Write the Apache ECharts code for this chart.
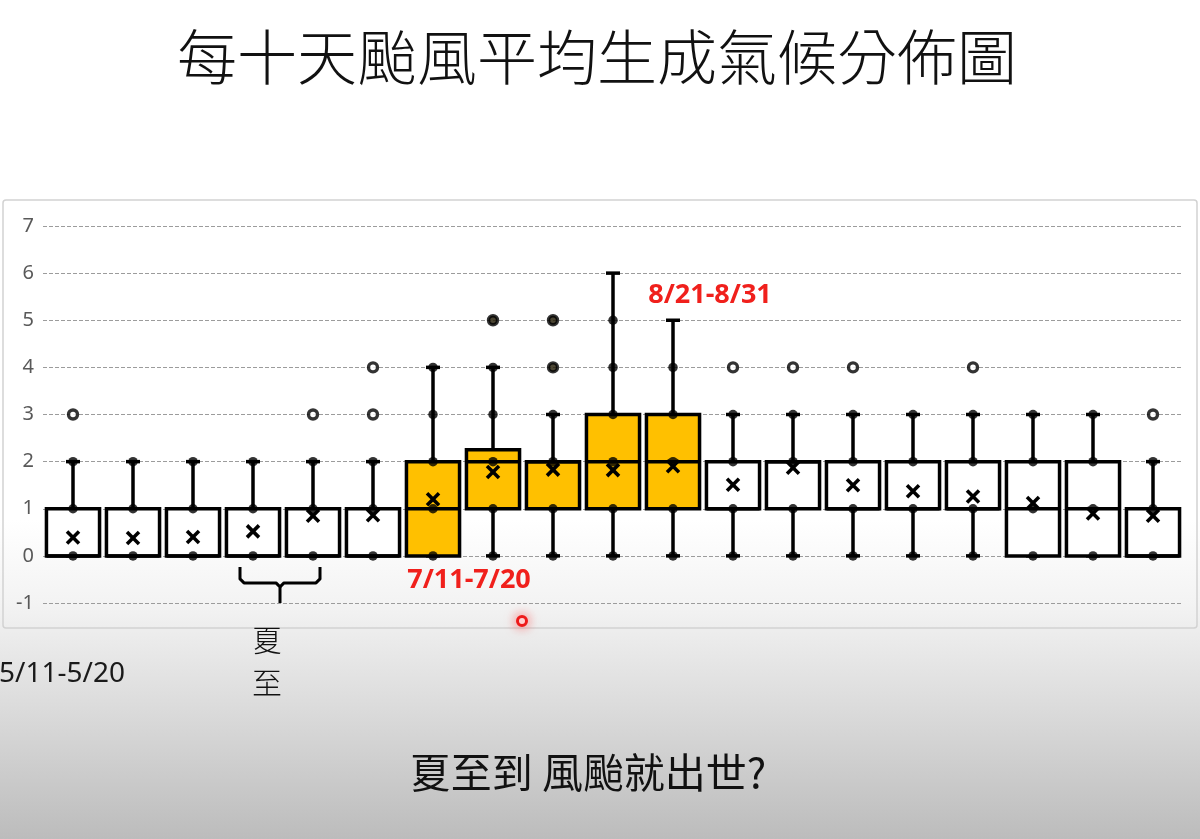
<!DOCTYPE html>
<html>
<head>
<meta charset="utf-8">
<script src="https://cdn.jsdelivr.net/npm/echarts@6/dist/echarts.min.js"></script>
<style>
  html, body { margin: 0; padding: 0; }
  body {
    width: 1200px; height: 839px; overflow: hidden;
    background: linear-gradient(to bottom, #ffffff 0%, #ffffff 62%, #f3f3f3 72%, #dcdcdc 84%, #bcbcbc 100%);
  }
  #chart { width: 1200px; height: 839px; }
</style>
</head>
<body>
<div id="chart"></div>
<script>
// ---- data ----
const categories = ['5/11-5/20','5/21-5/31','6/1-6/10','6/11-6/20','6/21-6/30','7/1-7/10','7/11-7/20',
  '7/21-7/31','8/1-8/10','8/11-8/20','8/21-8/31','9/1-9/10','9/11-9/20','9/21-9/30',
  '10/1-10/10','10/11-10/20','10/21-10/31','11/1-11/10','11/11-11/20'];
const whiskerLow  = [0,0,0,0,0,0,0,0,0,0,0,0,0,0,0,0,0,0,0];
const q1          = [0,0,0,0,0,0,0,1,1,1,1,1,1,1,1,1,0,0,0];
const median      = [0,0,0,0,0,0,1,2,2,2,2,1,2,1,1,1,1,1,0];
const q3          = [1,1,1,1,1,1,2,2.25,2,3,3,2,2,2,2,2,2,2,1];
const whiskerHigh = [2,2,2,2,2,2,4,4,3,6,5,3,3,3,3,3,3,3,2];
const means       = [0.39,0.38,0.4,0.52,0.85,0.86,1.2,1.78,1.83,1.82,1.9,1.51,1.87,1.5,1.37,1.26,1.12,0.9,0.85];
const innerPoints = [[0,1,2],[0,1,2],[0,1,2],[0,1,2],[0,1,2],[0,1,2],[0,1,2,3,4],[0,1,2,3,4],[0,1,2,3],
  [0,1,2,3,4,5],[0,1,2,3,4],[0,1,2,3],[0,1,2,3],[0,1,2,3],[0,1,2,3],[0,1,2,3],[0,1,2,3],[0,1,2,3],[0,1,2]];
const outliers    = [[3],[],[],[],[3],[3,4],[],[5],[4,5],[],[],[4],[4],[4],[],[4],[],[],[3]];
const yTicks = [-1,0,1,2,3,4,5,6,7];

// ---- build series data ----
const boxData = categories.map((c, i) => [i, whiskerLow[i], q1[i], median[i], q3[i], whiskerHigh[i]]);
const pointData = [];
innerPoints.forEach((arr, i) => arr.forEach(v => pointData.push([i, v])));
const outlierData = [];
outliers.forEach((arr, i) => arr.forEach(v => outlierData.push([i, v])));
const meanData = means.map((m, i) => [i, m]);

const chart = echarts.init(document.getElementById('chart'), null, { renderer: 'canvas' });
const ORANGE = '#FFC000';
const LW = 3.5;
const isHot = i => i >= 6 && i <= 10;

chart.setOption({
  backgroundColor: 'transparent',
  animation: false,
  grid: { left: 43, right: 17, top: 226, bottom: 236, containLabel: false, outerBoundsMode: 'none' },
  xAxis: {
    type: 'category',
    data: categories,
    boundaryGap: true,
    axisLine: { show: false, onZero: false },
    axisTick: { show: false },
    splitLine: { show: false },
    axisLabel: {
      interval: 0,
      formatter: (v, i) => (i === 0 ? v : ''),
      margin: 57,
      fontSize: 28,
      fontFamily: '"Noto Sans", "Liberation Sans", sans-serif',
      color: '#1a1a1a',
      padding: [0, 22, 0, 0]
    }
  },
  yAxis: {
    type: 'value',
    min: yTicks[0], max: yTicks[yTicks.length - 1], interval: 1,
    axisLine: { show: false },
    axisTick: { show: false },
    axisLabel: { color: '#595959', fontSize: 20, margin: 9, fontFamily: 'Noto Sans' },
    splitLine: { show: true, lineStyle: { color: '#9c9c9c', width: 1, type: [4, 2] } }
  },
  series: [
    {
      type: 'custom',
      z: 2,
      data: boxData,
      renderItem: function (params, api) {
        const i = api.value(0);
        const lo = api.coord([i, api.value(1)]);
        const b1 = api.coord([i, api.value(2)]);
        const md = api.coord([i, api.value(3)]);
        const b3 = api.coord([i, api.value(4)]);
        const hi = api.coord([i, api.value(5)]);
        const bw = api.size([1, 0])[0] * 0.885;
        const x = lo[0];
        const line = (x1, y1, x2, y2) => ({
          type: 'line', shape: { x1, y1, x2, y2 },
          style: { stroke: '#000', lineWidth: LW }
        });
        return {
          type: 'group',
          children: [
            line(x, b3[1], x, hi[1]),
            line(x, lo[1], x, b1[1]),
            line(x - 7, hi[1], x + 7, hi[1]),
            line(x - 7, lo[1], x + 7, lo[1]),
            {
              type: 'rect',
              shape: { x: x - bw / 2, y: b3[1], width: bw, height: b1[1] - b3[1] },
              style: { fill: isHot(i) ? ORANGE : '#ffffff', stroke: '#000', lineWidth: LW }
            },
            line(x - bw / 2, md[1], x + bw / 2, md[1])
          ]
        };
      }
    },
    {
      type: 'scatter',
      z: 3,
      data: pointData,
      symbol: 'circle',
      symbolSize: 9.5,
      itemStyle: { color: '#000' },
      silent: true
    },
    {
      type: 'scatter',
      z: 3,
      data: outlierData,
      symbol: 'circle',
      symbolSize: 9,
      itemStyle: {
        color: p => (isHot(p.data[0]) ? '#1e1700' : '#ffffff'),
        borderColor: '#000', borderWidth: 3.4
      },
      silent: true
    },
    {
      type: 'custom',
      z: 4,
      data: meanData,
      renderItem: function (params, api) {
        const p = api.coord([api.value(0), api.value(1)]);
        const s = 6;
        const st = { stroke: '#000', lineWidth: 3.6 };
        return {
          type: 'group',
          children: [
            { type: 'line', shape: { x1: p[0] - s, y1: p[1] - s, x2: p[0] + s, y2: p[1] + s }, style: st },
            { type: 'line', shape: { x1: p[0] - s, y1: p[1] + s, x2: p[0] + s, y2: p[1] - s }, style: st }
          ]
        };
      }
    }
  ]
});

// annotations positioned from the chart's own scales
const cx = i => chart.convertToPixel({ gridIndex: 0 }, [i, 0])[0];
const cy = v => chart.convertToPixel({ gridIndex: 0 }, [0, v])[1];
const bl = cx(3) - 13, br = cx(4) + 7, bm = (bl + br) / 2;
const y0 = cy(0), yEnd = cy(-1);
const yTop = y0 + 11, yBar = y0 + 27;
const bracketStyle = { fill: null, stroke: '#000', lineWidth: 3, lineJoin: 'round' };

chart.setOption({
  graphic: [
    {
      type: 'rect', z: -10, silent: true,
      shape: { x: 3, y: 200, width: 1194, height: 428, r: 3 },
      style: { fill: 'rgba(255,255,255,0)', stroke: '#d2d2d2', lineWidth: 1.5 }
    },
    {
      type: 'text', x: 597, y: 57,
      style: {
        text: '每十天颱風平均生成氣候分佈圖', align: 'center', verticalAlign: 'middle',
        font: '300 60px "Noto Sans CJK TC", "Noto Sans CJK SC", sans-serif',
        fill: '#111'
      }
    },
    {
      type: 'polyline', z: 10,
      shape: { points: [[bl, yTop], [bl, yBar - 4], [bl + 4, yBar], [bm - 4, yBar], [bm, yBar + 4], [bm, yEnd]] },
      style: bracketStyle
    },
    {
      type: 'polyline', z: 10,
      shape: { points: [[br, yTop], [br, yBar - 4], [br - 4, yBar], [bm + 4, yBar], [bm, yBar + 4]] },
      style: bracketStyle
    },
    {
      type: 'text', x: bm - 13, y: 618,
      style: {
        text: '夏\n至', lineHeight: 43, align: 'center',
        font: '300 30px "Noto Sans CJK TC", sans-serif', fill: '#111'
      }
    },
    {
      type: 'text', x: cx(10) + 37, y: 295,
      style: {
        text: '8/21-8/31', align: 'center', verticalAlign: 'middle',
        font: 'bold 27px "Open Sans", "Liberation Sans", sans-serif', fill: '#f0201c'
      }
    },
    {
      type: 'text', x: cx(6) + 36, y: 580,
      style: {
        text: '7/11-7/20', align: 'center', verticalAlign: 'middle',
        font: 'bold 27px "Open Sans", "Liberation Sans", sans-serif', fill: '#f0201c'
      }
    },
    {
      type: 'circle', z: 20, silent: true,
      shape: { cx: 522, cy: 621, r: 4.5 },
      style: { fill: '#fff5f5', stroke: '#ee1a1a', lineWidth: 3, shadowBlur: 12, shadowColor: 'rgba(255,40,40,0.6)' }
    },
    {
      type: 'text', x: 588, y: 772,
      style: {
        text: '夏至到 風颱就出世?', align: 'center', verticalAlign: 'middle',
        font: '41px "Noto Sans CJK TC", sans-serif', fill: '#111'
      }
    }
  ]
});
</script>
</body>
</html>
